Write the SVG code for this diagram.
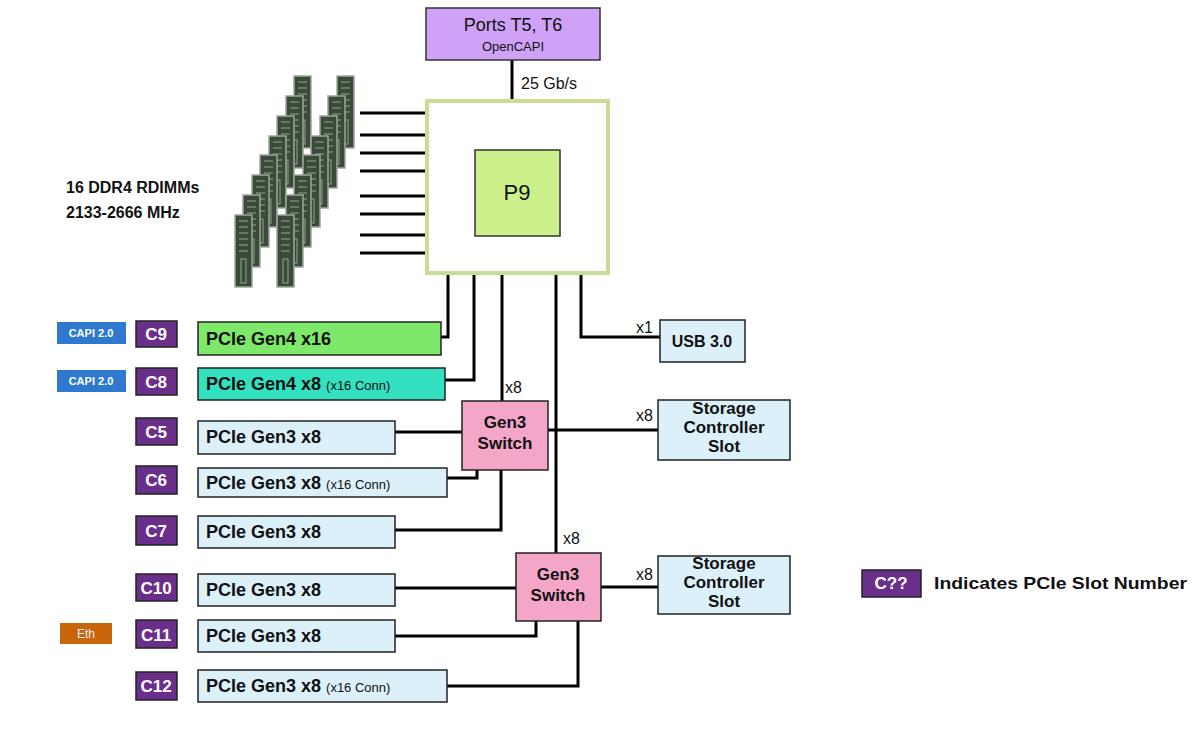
<svg xmlns="http://www.w3.org/2000/svg" width="1200" height="729" viewBox="0 0 1200 729">
<style>
text{font-family:"Liberation Sans",Arial,sans-serif;fill:#111}
.b{font-weight:bold}
.slot{stroke:#222;stroke-width:1.5}
.lb{fill:#dcf0fa}
.tag{fill:#6a2f8a;stroke:#222;stroke-width:1.5}
.tagt{fill:#fff;font-weight:bold;font-size:17px;text-anchor:middle}
.capi{fill:#2f78d0}
.capit{fill:#fff;font-weight:bold;font-size:11px;text-anchor:middle}
.etht{fill:#f0f0f0;font-size:12px;text-anchor:middle}
.ln{stroke:#000;stroke-width:3;fill:none}
.sw{fill:#f4a6c8;stroke:#222;stroke-width:1.5}
.st{font-size:17px;font-weight:bold;text-anchor:middle}
.dimm{fill:#3c4a3a;stroke:#9aa89a;stroke-width:1.5}
.dl{stroke:#8fa88a;stroke-width:1}
</style>
<defs>
<g id="stick">
<rect class="dimm" x="0" y="0" width="17" height="72"/>
<line class="dl" x1="4" y1="6" x2="13" y2="6"/><line class="dl" x1="4" y1="12" x2="13" y2="12"/><line class="dl" x1="4" y1="18" x2="13" y2="18"/><line class="dl" x1="4" y1="24" x2="13" y2="24"/><line class="dl" x1="4" y1="30" x2="13" y2="30"/><line class="dl" x1="4" y1="36" x2="13" y2="36"/>
<rect x="6" y="44" width="5" height="24" fill="none" stroke="#8fa88a"/>
</g>
</defs>
<rect width="1200" height="729" fill="#fff"/>
<g id="dimms">
<use href="#stick" x="294" y="76"/><use href="#stick" x="286" y="96"/><use href="#stick" x="277" y="116"/><use href="#stick" x="269" y="136"/><use href="#stick" x="260" y="155"/><use href="#stick" x="252" y="175"/><use href="#stick" x="243" y="195"/><use href="#stick" x="235" y="215"/>
<use href="#stick" x="337" y="76"/><use href="#stick" x="328" y="96"/><use href="#stick" x="320" y="116"/><use href="#stick" x="311" y="136"/><use href="#stick" x="303" y="155"/><use href="#stick" x="294" y="175"/><use href="#stick" x="286" y="195"/><use href="#stick" x="277" y="215"/>
</g>
<text class="b" x="66" y="193" font-size="16">16 DDR4 RDIMMs</text>
<text class="b" x="66" y="218" font-size="16">2133-2666 MHz</text>
<g id="connectors">
<path class="ln" d="M360 113H427M360 135H427M360 153H427M360 171H427M360 196H427M360 214H427M360 235H427M360 253H427"/>
<path class="ln" d="M512 60V101"/>
<path class="ln" d="M448 273V337H441"/>
<path class="ln" d="M474 273V380H445"/>
<path class="ln" d="M502 273V401"/>
<path class="ln" d="M556 273V553"/>
<path class="ln" d="M581 273V337H660"/>
<path class="ln" d="M395 432H462"/>
<path class="ln" d="M447 478H477V470"/>
<path class="ln" d="M395 530H501V470"/>
<path class="ln" d="M548 430H658"/>
<path class="ln" d="M395 588H516"/>
<path class="ln" d="M395 636H536V621"/>
<path class="ln" d="M447 686H578V621"/>
<path class="ln" d="M601 587H658"/>
</g>
<text x="521" y="89" font-size="16">25 Gb/s</text>
<text x="636" y="333" font-size="16">x1</text>
<text x="505" y="393" font-size="16">x8</text>
<text x="636" y="421" font-size="16">x8</text>
<text x="563" y="544" font-size="16">x8</text>
<text x="636" y="580" font-size="16">x8</text>
<g id="ports"><rect x="426" y="8" width="174" height="52" fill="#cfa2f8" stroke="#333" stroke-width="1.5"/>
<text x="513" y="31" font-size="18" text-anchor="middle">Ports T5, T6</text><text x="513" y="51" font-size="13" text-anchor="middle">OpenCAPI</text></g>
<g id="p9"><rect x="427" y="101" width="181" height="172" fill="#fff" stroke="#c8dc96" stroke-width="4"/>
<rect x="475" y="150" width="85" height="86" fill="#ccf08c" stroke="#333" stroke-width="1.5"/>
<text x="517" y="200" font-size="22" text-anchor="middle">P9</text></g>
<g id="usb"><rect class="slot lb" x="660" y="320" width="85" height="42"/><text class="b" x="702" y="347" font-size="16" text-anchor="middle">USB 3.0</text></g>
<g id="switch1"><rect class="sw" x="462" y="401" width="86" height="69"/><text class="st" x="505" y="428">Gen3</text><text class="st" x="505" y="449">Switch</text></g>
<g id="switch2"><rect class="sw" x="516" y="553" width="85" height="68"/><text class="st" x="558" y="580">Gen3</text><text class="st" x="558" y="601">Switch</text></g>
<g id="storage1"><rect class="slot lb" x="658" y="400" width="132" height="60"/><text class="st" x="724" y="414" font-size="16">Storage</text><text class="st" x="724" y="433" font-size="16">Controller</text><text class="st" x="724" y="452" font-size="16">Slot</text></g>
<g id="storage2"><rect class="slot lb" x="658" y="556" width="132" height="58"/><text class="st" x="724" y="569" font-size="16">Storage</text><text class="st" x="724" y="588" font-size="16">Controller</text><text class="st" x="724" y="607" font-size="16">Slot</text></g>
<g id="c9"><rect class="capi" x="57" y="322" width="69" height="22"/><text class="capit" x="91" y="337">CAPI 2.0</text>
<rect class="tag" x="136" y="321" width="41" height="26"/><text class="tagt" x="156" y="340">C9</text>
<rect class="slot" x="198" y="322" width="243" height="33" fill="#7ee86a"/><text class="b" x="206" y="345" font-size="18">PCIe Gen4 x16</text></g>
<g id="c8"><rect class="capi" x="57" y="370" width="69" height="22"/><text class="capit" x="91" y="385">CAPI 2.0</text>
<rect class="tag" x="136" y="368" width="41" height="27"/><text class="tagt" x="156" y="388">C8</text>
<rect class="slot" x="198" y="368" width="247" height="32" fill="#33e0c0"/><text class="b" x="206" y="390" font-size="18">PCIe Gen4 x8 <tspan font-size="13" font-weight="normal">(x16 Conn)</tspan></text></g>
<g id="c5"><rect class="tag" x="136" y="418" width="41" height="27"/><text class="tagt" x="156" y="438">C5</text>
<rect class="slot lb" x="198" y="421" width="197" height="33"/><text class="b" x="206" y="443" font-size="18">PCIe Gen3 x8</text></g>
<g id="c6"><rect class="tag" x="136" y="466" width="41" height="28"/><text class="tagt" x="156" y="486">C6</text>
<rect class="slot lb" x="198" y="468" width="249" height="29"/><text class="b" x="206" y="489" font-size="18">PCIe Gen3 x8 <tspan font-size="13" font-weight="normal">(x16 Conn)</tspan></text></g>
<g id="c7"><rect class="tag" x="136" y="516" width="41" height="29"/><text class="tagt" x="156" y="537">C7</text>
<rect class="slot lb" x="198" y="516" width="197" height="32"/><text class="b" x="206" y="538" font-size="18">PCIe Gen3 x8</text></g>
<g id="c10"><rect class="tag" x="136" y="574" width="41" height="27"/><text class="tagt" x="156" y="594">C10</text>
<rect class="slot lb" x="198" y="574" width="197" height="32"/><text class="b" x="206" y="596" font-size="18">PCIe Gen3 x8</text></g>
<g id="c11"><rect x="60" y="623" width="52" height="21" fill="#c8640a"/><text class="etht" x="86" y="638">Eth</text>
<rect class="tag" x="136" y="620" width="41" height="28"/><text class="tagt" x="156" y="641">C11</text>
<rect class="slot lb" x="198" y="620" width="197" height="32"/><text class="b" x="206" y="642" font-size="18">PCIe Gen3 x8</text></g>
<g id="c12"><rect class="tag" x="136" y="672" width="41" height="28"/><text class="tagt" x="156" y="692">C12</text>
<rect class="slot lb" x="198" y="670" width="249" height="32"/><text class="b" x="206" y="692" font-size="18">PCIe Gen3 x8 <tspan font-size="13" font-weight="normal">(x16 Conn)</tspan></text></g>
<g id="legend"><rect class="tag" x="862" y="570" width="59" height="27"/><text class="tagt" x="891" y="589">C??</text>
<text class="b" x="934" y="589" font-size="17" textLength="253" lengthAdjust="spacingAndGlyphs">Indicates PCIe Slot Number</text></g>
</svg>
